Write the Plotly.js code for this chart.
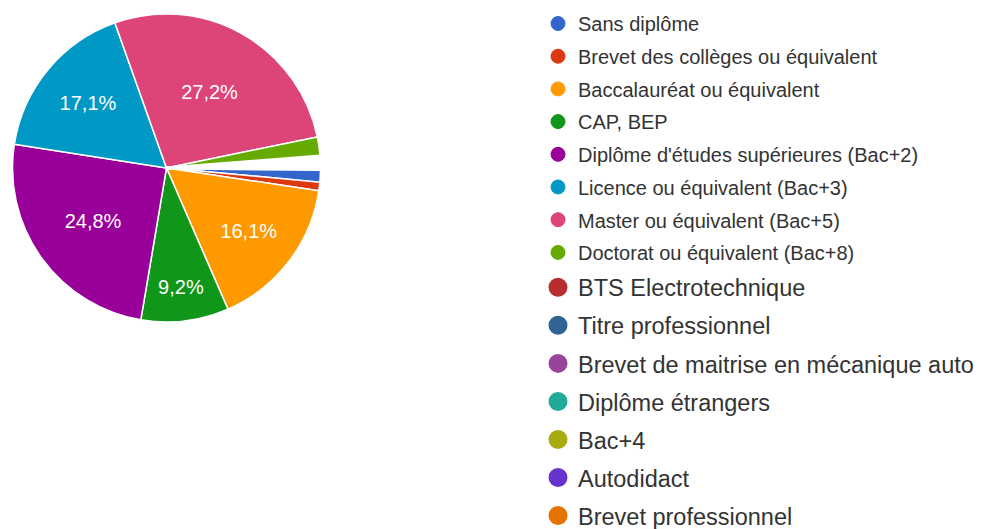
<!DOCTYPE html>
<html>
<head>
<meta charset="utf-8">
<script src="https://cdn.plot.ly/plotly-3.0.1.min.js"></script>
<style>html,body{margin:0;padding:0;background:#fff;}#chart{width:987px;height:529px;}</style>
</head>
<body>
<div id="chart"></div>
<script>
// Categories (slice order, clockwise from 3 o'clock)
const categories = [
  "Sans diplôme",
  "Brevet des collèges ou équivalent",
  "Baccalauréat ou équivalent",
  "CAP, BEP",
  "Diplôme d'études supérieures (Bac+2)",
  "Licence ou équivalent (Bac+3)",
  "Master ou équivalent (Bac+5)",
  "Doctorat ou équivalent (Bac+8)",
  "BTS Electrotechnique",
  "Titre professionnel",
  "Brevet de maitrise en mécanique auto",
  "Diplôme étrangers",
  "Bac+4",
  "Autodidact",
  "Brevet professionnel"
];
// Percentages
const values = [1.3, 0.9, 16.1, 9.2, 24.8, 17.1, 27.2, 2.0, 0.2, 0.2, 0.2, 0.2, 0.2, 0.2, 0.2];
const colors = [
  "#3366CC", "#DC3912", "#FF9900", "#109618", "#990099", "#0099C6", "#DD4477", "#66AA00",
  "#B82E2E", "#316395", "#994499", "#22AA99", "#AAAA11", "#6633CC", "#E67300"
];
const mainCount = 8; // first legend group (smaller font)

const W = 987, H = 529;
const cx = 166.5, cy = 168, R = 154;

const textPos = values.map(v => v >= 5 ? 'inside' : 'none');
const lineW = values.map(v => v < 0.5 ? 3 : 1.5);

const traces = [{
  type: 'pie',
  labels: categories,
  values: values,
  sort: false,
  direction: 'clockwise',
  rotation: 90.6,
  marker: {colors: colors, line: {color: '#ffffff', width: lineW}},
  textinfo: 'percent',
  textposition: textPos,
  insidetextorientation: 'horizontal',
  insidetextfont: {color: '#ffffff', size: 20, family: 'Arial, Liberation Sans, sans-serif'},
  showlegend: false,
  hoverinfo: 'label+percent',
  domain: {x: [(cx - R) / W, (cx + R) / W], y: [1 - (cy + R) / H, 1 - (cy - R) / H]}
}];

categories.forEach((c, i) => {
  const main = i < mainCount;
  traces.push({
    type: 'scatter',
    mode: 'markers',
    x: [null], y: [null],
    name: c,
    legendgroup: 'g' + i,
    legend: main ? 'legend' : 'legend2',
    marker: {color: colors[i], size: main ? 14 : 16, symbol: 'circle',
             line: {color: colors[i], width: main ? 1 : 3}},
    showlegend: true,
    hoverinfo: 'skip'
  });
});

const layout = {
  width: W, height: H,
  margin: {l: 0, r: 0, t: 0, b: 0, autoexpand: false},
  paper_bgcolor: '#ffffff', plot_bgcolor: '#ffffff',
  separators: ', ',
  xaxis: {visible: false, domain: [0.99, 1]},
  yaxis: {visible: false, domain: [0.99, 1]},
  legend: {
    xref: 'paper', yref: 'paper',
    x: 538 / W, y: 1 - 4 / H, xanchor: 'left', yanchor: 'top',
    font: {size: 20, color: '#333333', family: 'Arial, Liberation Sans, sans-serif'},
    traceorder: 'grouped', tracegroupgap: 3.7, itemsizing: 'trace',
    bgcolor: 'rgba(0,0,0,0)'
  },
  legend2: {
    xref: 'paper', yref: 'paper',
    x: 538 / W, y: 1 - 265.5 / H, xanchor: 'left', yanchor: 'top',
    font: {size: 23.5, color: '#333333', family: 'Arial, Liberation Sans, sans-serif'},
    traceorder: 'grouped', tracegroupgap: 4.5, itemsizing: 'trace',
    bgcolor: 'rgba(0,0,0,0)'
  }
};

Plotly.newPlot('chart', traces, layout, {displayModeBar: false, staticPlot: true});
</script>
</body>
</html>
